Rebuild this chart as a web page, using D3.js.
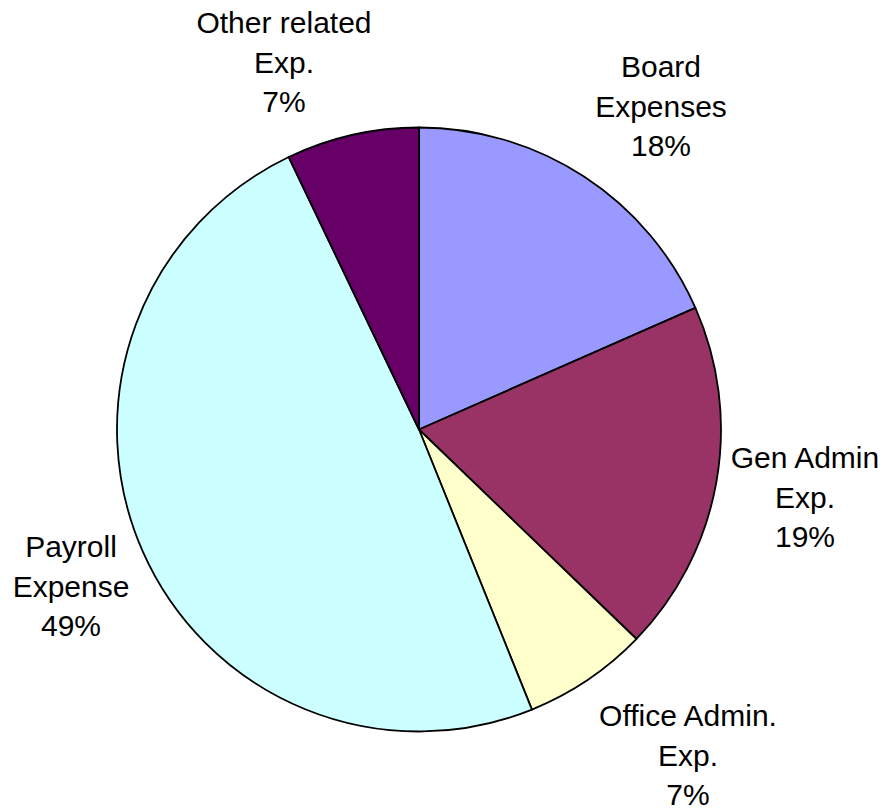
<!DOCTYPE html>
<html>
<head>
<meta charset="utf-8">
<script src="https://cdn.jsdelivr.net/npm/d3@7"></script>
<style>
  body { margin: 0; background: #fff; }
  svg text { font-family: "Liberation Sans", Arial, sans-serif; fill: #000; }
</style>
</head>
<body>
<svg></svg>
<script>
const width = 885
const height = 810

// slice data, clockwise from 12 o'clock
const categories = ["Board Expenses", "Gen Admin Exp.", "Office Admin. Exp.", "Payroll Expense", "Other related Exp."]
const values = [18.4, 18.8, 6.7, 49.0, 7.1]
const colors = ["#9999FF", "#993366", "#FFFFCC", "#CCFFFF", "#660066"]
// label lines as drawn in the chart
const labelLines = [["Board", "Expenses"], ["Gen Admin", "Exp."], ["Office Admin.", "Exp."], ["Payroll", "Expense"], ["Other related", "Exp."]]
// label anchors (center x, first baseline y)
const labelPos = [[661, 77], [805, 468], [688, 726], [71, 557], [284, 33]]

const cx = 419, cy = 429.5, radius = 302

let svg = d3.select("svg")
    .attr("width", width)
    .attr("height", height)

let data = categories.map(function(c, i) { return {name: c, value: values[i], i: i} })

let pie = d3.pie().sort(null).value(function(d) { return d.value })
let arc = d3.arc().innerRadius(0).outerRadius(radius)

let g = svg.append("g").attr("transform", "translate(" + cx + "," + cy + ")")

g.selectAll("path")
    .data(pie(data))
    .enter()
    .append("path")
    .attr("d", arc)
    .attr("fill", function(d) { return colors[d.data.i] })
    .attr("stroke", "#000")
    .attr("stroke-width", 1.8)
    .attr("stroke-linejoin", "round")

let total = d3.sum(values)

// labels
let labels = svg.selectAll("text.lbl")
    .data(data)
    .enter()
    .append("text")
    .attr("class", "lbl")
    .attr("text-anchor", "middle")
    .attr("font-size", 30)
    .attr("x", function(d) { return labelPos[d.i][0] })
    .attr("y", function(d) { return labelPos[d.i][1] })

labels.each(function(d) {
    let t = d3.select(this)
    let lines = labelLines[d.i].concat([Math.round(d.value / total * 100) + "%"])
    lines.forEach(function(l, k) {
        t.append("tspan")
            .attr("x", labelPos[d.i][0])
            .attr("dy", k == 0 ? 0 : 39.5)
            .text(l)
    })
})
</script>
</body>
</html>
